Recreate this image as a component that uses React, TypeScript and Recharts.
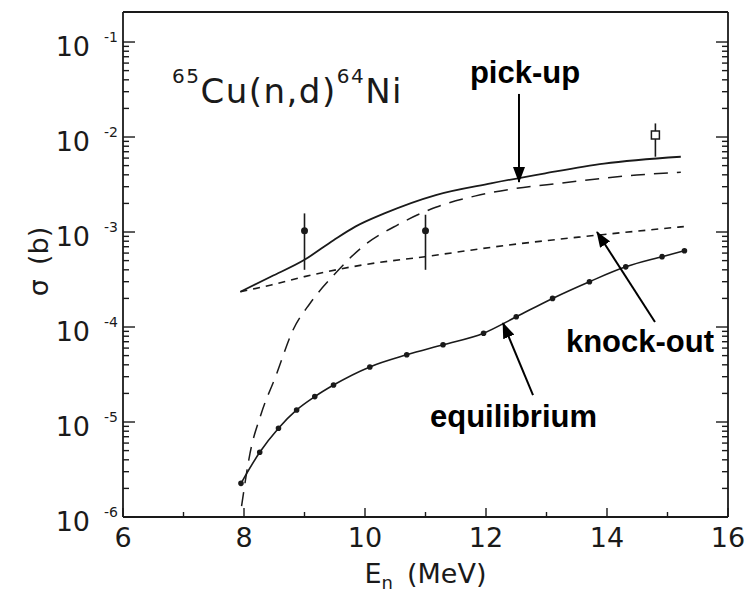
import React from 'react';
import {
  ComposedChart,
  Line,
  Scatter,
  XAxis,
  YAxis,
  ErrorBar,
  ReferenceLine,
  ReferenceDot,
} from 'recharts';

// total (solid)
const totalE = [7.94, 8.45, 9.0, 9.48, 9.84, 10.32, 11.17, 12.08, 12.98, 13.95, 15.22];
const totalS = [2.35e-4, 3.4e-4, 5.1e-4, 8.2e-4, 1.14e-3, 1.57e-3, 2.45e-3, 3.25e-3, 4.15e-3, 5.25e-3, 6.2e-3];

// pick-up (long dashes)
const pickE = [7.96, 8.1, 8.28, 8.53, 8.81, 9.09, 9.48, 9.96, 10.54, 11.17, 11.83, 12.5, 13.22, 14.49, 15.22];
const pickS = [1.3e-6, 4.7e-6, 1.2e-5, 3.1e-5, 9.3e-5, 1.77e-4, 3.5e-4, 7.0e-4, 1.19e-3, 1.82e-3, 2.4e-3, 2.88e-3, 3.26e-3, 3.98e-3, 4.25e-3];

// knock-out (short dashes)
const knockE = [7.94, 8.45, 9.0, 9.96, 10.99, 12.38, 13.58, 15.27];
const knockS = [2.35e-4, 2.77e-4, 3.39e-4, 4.5e-4, 5.5e-4, 7.3e-4, 8.9e-4, 1.14e-3];

// equilibrium (dotted solid)
const eqE = [7.95, 8.26, 8.57, 8.87, 9.17, 9.48, 10.08, 10.69, 11.29, 11.96, 12.5, 13.1, 13.71, 14.31, 14.91, 15.28];
const eqS = [2.26e-6, 4.8e-6, 8.6e-6, 1.34e-5, 1.85e-5, 2.45e-5, 3.8e-5, 5.1e-5, 6.5e-5, 8.6e-5, 1.28e-4, 2.0e-4, 3.0e-4, 4.3e-4, 5.5e-4, 6.35e-4];

// measured points (circles) with error bars
const dotE = [9, 11];
const dotS = [1.03e-3, 1.03e-3];
const dotLo = [4.0e-4, 4.0e-4];
const dotHi = [1.57e-3, 1.52e-3];

// measured point (open square)
const sqE = [14.8];
const sqS = [1.05e-2];
const sqLo = [6.2e-3];
const sqHi = [1.39e-2];

const xTicks = [6, 7, 8, 9, 10, 11, 12, 13, 14, 15, 16];
const yDecades = [-6, -5, -4, -3, -2];
const yTopExp = -1;

const yTicks: number[] = [];
yDecades.forEach((k) => {
  for (let m = 1; m <= 9; m++) yTicks.push(m * Math.pow(10, k));
});
yTicks.push(Math.pow(10, yTopExp));

const rows = (es: number[], ss: number[]) => es.map((e, i) => ({ e, s: ss[i] }));
const errRows = (es: number[], ss: number[], lo: number[], hi: number[]) =>
  es.map((e, i) => ({ e, s: ss[i], err: [ss[i] - lo[i], hi[i] - ss[i]] }));

const FONT = '"DejaVu Sans", sans-serif';
const BOLD = '"Liberation Sans", Arial, sans-serif';
const INK = '#1a1a1a';

const isMajor = (v: number) => {
  const l = Math.log10(v);
  return Math.abs(l - Math.round(l)) < 1e-6;
};

const LeftTick = (props: any) => {
  const { x, y, payload } = props;
  const major = isMajor(payload.value);
  const exp = Math.round(Math.log10(payload.value));
  return (
    <g>
      <line x1={x} y1={y} x2={x + (major ? 12 : 6)} y2={y} stroke={INK} strokeWidth={1.4} />
      {major && (
        <text x={x - 5} y={y + 14} textAnchor="end" fontFamily={FONT} fill={INK}>
          <tspan fontSize={27}>10</tspan>
          <tspan fontSize={14} dx={14} dy={-14}>{`-${-exp}`}</tspan>
        </text>
      )}
    </g>
  );
};

const RightTick = (props: any) => {
  const { x, y, payload } = props;
  const major = isMajor(payload.value);
  return <line x1={x} y1={y} x2={x - (major ? 12 : 6)} y2={y} stroke={INK} strokeWidth={1.4} />;
};

const BottomTick = (props: any) => {
  const { x, y, payload } = props;
  const major = payload.value % 2 === 0;
  return (
    <g>
      <line x1={x} y1={y} x2={x} y2={y - (major ? 9 : 5)} stroke={INK} strokeWidth={1.4} />
      {major && (
        <text x={x} y={y + 30} textAnchor="middle" fontFamily={FONT} fontSize={27} fill={INK}>
          {payload.value}
        </text>
      )}
    </g>
  );
};

const TopTick = (props: any) => {
  const { x, y } = props;
  return <line x1={x} y1={y} x2={x} y2={y + 6} stroke={INK} strokeWidth={1.4} />;
};

const XTitle = (props: any) => {
  const { x, y, width } = props.viewBox;
  return (
    <text x={x + width / 2} y={y + 66} textAnchor="middle" fontFamily={FONT} fill={INK}>
      <tspan fontSize={27}>E</tspan>
      <tspan fontSize={18} dy={6}>n</tspan>
      <tspan fontSize={27} dx={14} dy={-6}>(MeV)</tspan>
    </text>
  );
};

const YTitle = (props: any) => {
  const { x, y, height } = props.viewBox;
  const cx = x + 48;
  const cy = y + height / 2 - 3;
  return (
    <text
      x={cx}
      y={cy}
      transform={`rotate(-90 ${cx} ${cy})`}
      textAnchor="middle"
      fontFamily={FONT}
      fontSize={27}
      fill={INK}
    >
      σ<tspan dx={14}>(b)</tspan>
    </text>
  );
};

const Anno = (props: any) => {
  const { x, y } = props.viewBox;
  return (
    <text x={x} y={y} textAnchor="middle" fontFamily={BOLD} fontWeight="bold" fontSize={31} fill="#000">
      {props.text}
    </text>
  );
};

const Title = (props: any) => {
  const { x, y } = props.viewBox;
  return (
    <text x={x} y={y} fontFamily={FONT} fill={INK} letterSpacing={1.5}>
      <tspan fontSize={20} dy={-20}>65</tspan>
      <tspan fontSize={34} dy={20}>Cu(n,d)</tspan>
      <tspan fontSize={20} dy={-20}>64</tspan>
      <tspan fontSize={34} dy={20}>Ni</tspan>
    </text>
  );
};

const Arrow = (p: any) => (
  <line x1={p.x1} y1={p.y1} x2={p.x2} y2={p.y2} stroke="#000" strokeWidth={2} markerEnd="url(#arrowHead)" />
);

const Dot = (p: any) => <circle cx={p.cx} cy={p.cy} r={3.5} fill={INK} />;
const Square = (p: any) => (
  <rect x={p.cx - 4} y={p.cy - 4} width={8} height={8} fill="#fff" stroke={INK} strokeWidth={1.5} />
);

export default function App() {
  return (
    <div style={{ position: 'absolute', left: 0, top: 0, background: '#fff' }}>
      <ComposedChart width={750} height={592} margin={{ top: 0, right: 0, bottom: 0, left: 0 }}>
        <defs>
          <marker
            id="arrowHead"
            markerWidth={16}
            markerHeight={12}
            refX={15}
            refY={6}
            orient="auto"
            markerUnits="userSpaceOnUse"
          >
            <path d="M0,0 L16,6 L0,12 z" fill="#000" />
          </marker>
        </defs>
        <XAxis
          xAxisId={0}
          dataKey="e"
          type="number"
          domain={[6, 16]}
          ticks={xTicks}
          interval={0}
          height={75}
          tickSize={0}
          tickMargin={0}
          tick={<BottomTick />}
          axisLine={{ stroke: INK, strokeWidth: 1.8 }}
          allowDataOverflow
          label={<XTitle />}
        />
        <XAxis
          xAxisId="top"
          orientation="top"
          type="number"
          domain={[6, 16]}
          ticks={xTicks}
          interval={0}
          height={12}
          tickSize={0}
          tickMargin={0}
          tick={<TopTick />}
          axisLine={{ stroke: INK, strokeWidth: 1.8 }}
          allowDataOverflow
        />
        <YAxis
          yAxisId={0}
          dataKey="s"
          type="number"
          scale="log"
          domain={[1e-6, 0.207]}
          ticks={yTicks}
          interval={0}
          width={123}
          tickSize={0}
          tickMargin={0}
          tick={<LeftTick />}
          axisLine={{ stroke: INK, strokeWidth: 1.8 }}
          allowDataOverflow
          label={<YTitle />}
        />
        <YAxis
          yAxisId="right"
          orientation="right"
          type="number"
          scale="log"
          domain={[1e-6, 0.207]}
          ticks={yTicks}
          interval={0}
          width={22}
          tickSize={0}
          tickMargin={0}
          tick={<RightTick />}
          axisLine={{ stroke: INK, strokeWidth: 1.8 }}
          allowDataOverflow
        />

        <Line
          data={rows(totalE, totalS)}
          dataKey="s"
          type="monotone"
          stroke={INK}
          strokeWidth={1.8}
          dot={false}
          isAnimationActive={false}
        />
        <Line
          data={rows(pickE, pickS)}
          dataKey="s"
          type="monotone"
          stroke={INK}
          strokeWidth={1.5}
          strokeDasharray="14 9"
          dot={false}
          isAnimationActive={false}
        />
        <Line
          data={rows(knockE, knockS)}
          dataKey="s"
          type="monotone"
          stroke={INK}
          strokeWidth={1.6}
          strokeDasharray="7 6"
          dot={false}
          isAnimationActive={false}
        />
        <Line
          data={rows(eqE, eqS)}
          dataKey="s"
          type="monotone"
          stroke={INK}
          strokeWidth={1.6}
          dot={{ r: 2, fill: INK, stroke: INK }}
          isAnimationActive={false}
        />
        <Scatter data={errRows(dotE, dotS, dotLo, dotHi)} dataKey="s" shape={<Dot />} isAnimationActive={false}>
          <ErrorBar dataKey="err" direction="y" width={0} stroke={INK} strokeWidth={1.6} isAnimationActive={false} />
        </Scatter>
        <Scatter data={errRows(sqE, sqS, sqLo, sqHi)} dataKey="s" shape={<Square />} isAnimationActive={false}>
          <ErrorBar dataKey="err" direction="y" width={0} stroke={INK} strokeWidth={1.6} isAnimationActive={false} />
        </Scatter>

        <ReferenceLine segment={[{ x: 12.545, y: 0.0284 }, { x: 12.545, y: 3.36e-3 }]} shape={<Arrow />} />
        <ReferenceLine segment={[{ x: 14.793, y: 1.13e-4 }, { x: 13.835, y: 1.0e-3 }]} shape={<Arrow />} />
        <ReferenceLine segment={[{ x: 12.777, y: 1.92e-5 }, { x: 12.281, y: 1.1e-4 }]} shape={<Arrow />} />

        <ReferenceDot x={6.81} y={0.0228} r={0} fill="none" stroke="none" label={<Title />} />
        <ReferenceDot x={12.645} y={0.037} r={0} fill="none" stroke="none" label={<Anno text="pick-up" />} />
        <ReferenceDot x={14.545} y={5.46e-5} r={0} fill="none" stroke="none" label={<Anno text="knock-out" />} />
        <ReferenceDot x={12.455} y={8.85e-6} r={0} fill="none" stroke="none" label={<Anno text="equilibrium" />} />
      </ComposedChart>
    </div>
  );
}
